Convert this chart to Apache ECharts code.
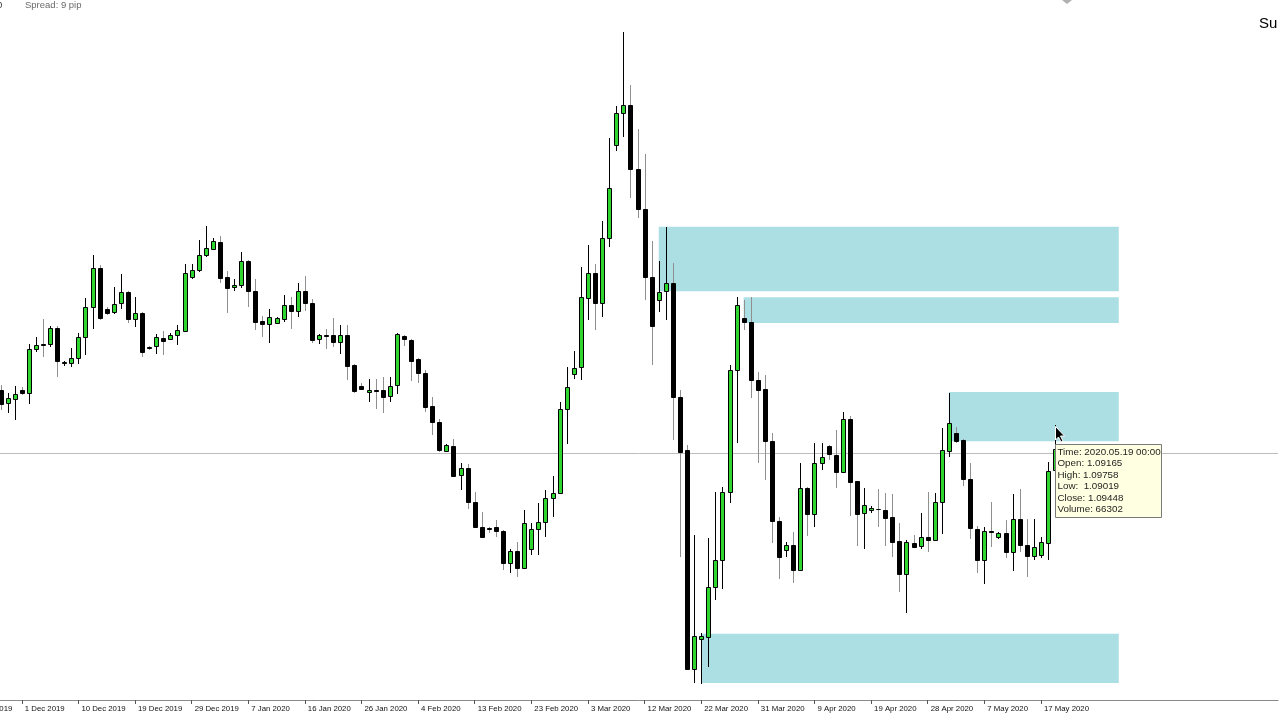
<!DOCTYPE html>
<html>
<head>
<meta charset="utf-8">
<script src="https://cdn.jsdelivr.net/npm/echarts/dist/echarts.min.js"></script>
<style>
html,body{margin:0;padding:0;background:#ffffff;overflow:hidden;}
#chart{width:1280px;height:720px;}
</style>
</head>
<body>
<div id="chart"></div>
<script>
// ---------------- data ----------------
// daily bars (broker with Sunday bars): categories start 2019.11.21, Saturdays skipped
const firstDay = [2019, 10, 21];     // UTC y, m(0-based), d
const barCount = 186;                // includes empty future space on the right
const firstCandleIndex = 5;          // 2019.11.27 is first visible candle
const monthNames = ['Jan','Feb','Mar','Apr','May','Jun','Jul','Aug','Sep','Oct','Nov','Dec'];

// [open, close, low, high]
const ohlc = [
[1.1023,1.1004,1.0996,1.1029],[1.1005,1.1012,1.0992,1.1019],[1.1011,1.1017,1.0983,1.1028],[1.1023,1.1019,1.1016,1.1027],
[1.1019,1.1077,1.1004,1.1083],[1.1077,1.1082,1.1073,1.1093],[1.1083,1.1082,1.1066,1.1116],[1.1083,1.1104,1.1079,1.1107],
[1.1104,1.1061,1.1040,1.1107],[1.1058,1.1060,1.1054,1.1061],[1.1058,1.1065,1.1053,1.1078],[1.1065,1.1093,1.1057,1.1098],
[1.1093,1.1132,1.1069,1.1144],[1.1132,1.1184,1.1103,1.1201],[1.1184,1.1118,1.1115,1.1188],[1.1130,1.1124,1.1122,1.1132],
[1.1126,1.1136,1.1123,1.1159],[1.1137,1.1152,1.1130,1.1176],[1.1152,1.1116,1.1111,1.1153],[1.1116,1.1124,1.1106,1.1145],
[1.1124,1.1073,1.1066,1.1125],[1.1079,1.1078,1.1075,1.1081],[1.1081,1.1093,1.1070,1.1097],[1.1091,1.1087,1.1069,1.1100],
[1.1090,1.1095,1.1089,1.1098],[1.1095,1.1102,1.1082,1.1108],[1.1100,1.1177,1.1099,1.1189],[1.1172,1.1181,1.1169,1.1189],
[1.1181,1.1201,1.1178,1.1221],[1.1201,1.1210,1.1198,1.1239],[1.1209,1.1219,1.1207,1.1223],[1.1218,1.1170,1.1164,1.1226],
[1.1172,1.1157,1.1124,1.1180],[1.1159,1.1161,1.1153,1.1169],[1.1161,1.1193,1.1157,1.1205],[1.1193,1.1153,1.1132,1.1194],
[1.1153,1.1112,1.1102,1.1169],[1.1114,1.1110,1.1093,1.1120],[1.1110,1.1119,1.1085,1.1130],[1.1111,1.1118,1.1110,1.1119],
[1.1116,1.1135,1.1112,1.1148],[1.1135,1.1127,1.1103,1.1145],[1.1127,1.1153,1.1119,1.1164],[1.1153,1.1137,1.1127,1.1173],
[1.1137,1.1089,1.1085,1.1143],[1.1090,1.1095,1.1083,1.1096],[1.1095,1.1094,1.1077,1.1103],[1.1095,1.1086,1.1079,1.1118],
[1.1086,1.1095,1.1070,1.1108],[1.1095,1.1054,1.1036,1.1108],[1.1056,1.1021,1.1019,1.1057],[1.1028,1.1024,1.1023,1.1032],
[1.1020,1.1023,1.1007,1.1037],[1.1023,1.1021,1.0998,1.1037],[1.1023,1.1013,1.0992,1.1040],[1.1015,1.1028,1.1007,1.1040],
[1.1029,1.1097,1.1017,1.1098],[1.1094,1.1090,1.1081,1.1095],[1.1089,1.1061,1.1035,1.1090],[1.1064,1.1045,1.1032,1.1065],
[1.1045,1.1000,1.0994,1.1049],[1.1002,1.0980,1.0963,1.1013],[1.0980,1.0943,1.0941,1.0984],[1.0942,1.0950,1.0941,1.0951],
[1.0949,1.0909,1.0908,1.0958],[1.0910,1.0920,1.0891,1.0926],[1.0920,1.0875,1.0866,1.0925],[1.0875,1.0842,1.0840,1.0888],
[1.0842,1.0829,1.0828,1.0862],[1.0840,1.0839,1.0834,1.0842],[1.0842,1.0837,1.0829,1.0851],[1.0837,1.0794,1.0785,1.0838],
[1.0794,1.0810,1.0781,1.0813],[1.0810,1.0788,1.0776,1.0822],[1.0788,1.0847,1.0786,1.0864],[1.0813,1.0839,1.0805,1.0847],
[1.0839,1.0848,1.0805,1.0873],[1.0848,1.0880,1.0829,1.0891],[1.0880,1.0887,1.0855,1.0909],[1.0887,1.0998,1.0885,1.1007],
[1.0998,1.1027,1.0951,1.1053],[1.1044,1.1052,1.1037,1.1074],[1.1053,1.1145,1.1036,1.1185],[1.1144,1.1177,1.1115,1.1214],
[1.1177,1.1137,1.1102,1.1189],[1.1137,1.1223,1.1119,1.1246],[1.1223,1.1289,1.1211,1.1355],[1.1346,1.1388,1.1338,1.1397],
[1.1388,1.1399,1.1357,1.1495],[1.1399,1.1314,1.1276,1.1425],[1.1314,1.1262,1.1250,1.1367],[1.1262,1.1172,1.1141,1.1334],
[1.1172,1.1107,1.1056,1.1219],[1.1141,1.1152,1.1126,1.1193],[1.1153,1.1164,1.1115,1.1238],[1.1164,1.1013,1.0956,1.1190],
[1.1013,1.0941,1.0802,1.1023],[1.0943,1.0654,1.0653,1.0950],[1.0654,1.0698,1.0636,1.0831],[1.0694,1.0698,1.0635,1.0702],
[1.0697,1.0763,1.0657,1.0827],[1.0763,1.0798,1.0745,1.0888],[1.0798,1.0888,1.0760,1.0895],[1.0888,1.1049,1.0874,1.1056],
[1.1049,1.1135,1.0953,1.1145],[1.1118,1.1112,1.1102,1.1141],[1.1112,1.1036,1.1012,1.1145],[1.1036,1.1023,1.0926,1.1046],
[1.1024,1.0955,1.0904,1.1042],[1.0955,1.0850,1.0821,1.0966],[1.0850,1.0802,1.0773,1.0855],[1.0811,1.0818,1.0802,1.0822],
[1.0818,1.0785,1.0768,1.0835],[1.0785,1.0893,1.0784,1.0926],[1.0893,1.0859,1.0830,1.0894],[1.0859,1.0926,1.0842,1.0952],
[1.0926,1.0934,1.0917,1.0952],[1.0949,1.0938,1.0930,1.0950],[1.0937,1.0914,1.0893,1.0970],[1.0914,1.0984,1.0913,1.0994],
[1.0984,1.0901,1.0856,1.0988],[1.0902,1.0859,1.0817,1.0903],[1.0860,1.0871,1.0813,1.0893],[1.0864,1.0867,1.0860,1.0869],
[1.0866,1.0865,1.0842,1.0892],[1.0864,1.0854,1.0817,1.0887],[1.0855,1.0822,1.0802,1.0885],[1.0823,1.0780,1.0756,1.0847],
[1.0780,1.0822,1.0728,1.0824],[1.0821,1.0815,1.0814,1.0831],[1.0817,1.0829,1.0813,1.0860],[1.0829,1.0825,1.0809,1.0888],
[1.0825,1.0875,1.0823,1.0887],[1.0875,1.0943,1.0833,1.0972],[1.0942,1.0979,1.0934,1.1019],[1.0966,1.0955,1.0953,1.0974],
[1.0957,1.0905,1.0896,1.0958],[1.0905,1.0840,1.0826,1.0926],[1.0839,1.0798,1.0781,1.0843],[1.0798,1.0837,1.0767,1.0842],
[1.0837,1.0835,1.0815,1.0875],[1.0829,1.0834,1.0826,1.0835],[1.0834,1.0809,1.0801,1.0851],[1.0809,1.0852,1.0784,1.0885],
[1.0852,1.0818,1.0809,1.0892],[1.0818,1.0804,1.0776,1.0852],[1.0804,1.0815,1.0798,1.0852],[1.0805,1.0822,1.0801,1.0829],
[1.0821,1.0916,1.0798,1.0928],[1.09165,1.09448,1.09019,1.09758]
];
const hoverVolume = 66302;
const crosshairPrice = 1.0939;

// supply / demand rectangles: [from date, to date, top price, bottom price]
const zones = [
  ['2020.03.15', '2020.05.29', 1.1238, 1.1153],
  ['2020.03.29', '2020.05.29', 1.1145, 1.1111],
  ['2020.05.01', '2020.05.29', 1.1020, 1.0955],
  ['2020.03.22', '2020.05.29', 1.0701, 1.0636]
];
const priceMin = 1.06134, priceMax = 1.15374;
const spreadLabel = 'Spread: 9 pip';
const cornerLabel = 'Su';

// ---------------- build ----------------
function pad(n){ return (n < 10 ? '0' : '') + n; }
const categories = [];
(function(){
  const d = new Date(Date.UTC(firstDay[0], firstDay[1], firstDay[2]));
  while (categories.length < barCount) {
    if (d.getUTCDay() !== 6) categories.push(d.getUTCFullYear() + '.' + pad(d.getUTCMonth() + 1) + '.' + pad(d.getUTCDate()));
    d.setUTCDate(d.getUTCDate() + 1);
  }
})();
const lastCandleCat = firstCandleIndex + ohlc.length - 1;
const candleData = ohlc.map((r, i) => [firstCandleIndex + i, r[0], r[1], r[2], r[3]]);
function labelOf(v){
  const p = v.split('.');
  return parseInt(p[2], 10) + ' ' + monthNames[parseInt(p[1], 10) - 1] + ' ' + p[0];
}
const showTick = (idx) => idx % 8 === 0 && idx <= lastCandleCat;

const GREEN = '#2fd62f';
const ZONE = '#acdfe3';
const FONT = '"Liberation Sans", Arial, sans-serif';

const chart = echarts.init(document.getElementById('chart'), null, {renderer: 'canvas'});

const hv = ohlc[ohlc.length - 1];
const hoverDate = categories[lastCandleCat];
const tipLines = [
  'Time: ' + hoverDate + ' 00:00',
  'Open: ' + hv[0].toFixed(5),
  'High: ' + hv[3].toFixed(5),
  'Low:  ' + hv[2].toFixed(5),
  'Close: ' + hv[1].toFixed(5),
  'Volume: ' + hoverVolume
];
const tipX = 1055, tipY = 444;
const graphics = [
  {type: 'text', z: 50, x: -3, y: 5, style: {text: '0', fill: '#333333', font: '9.5px ' + FONT, verticalAlign: 'middle'}},
  {type: 'text', z: 50, x: 25, y: 5, style: {text: spreadLabel, fill: '#6a6a6a', font: '9.5px ' + FONT, verticalAlign: 'middle'}},
  {type: 'text', z: 50, x: 1259, y: 24, style: {text: cornerLabel, fill: '#000000', font: '15px ' + FONT, verticalAlign: 'middle'}},
  {type: 'polygon', z: 50, shape: {points: [[1062, 0], [1072, 0], [1067, 4]]}, style: {fill: '#b0b0b0'}},
  {type: 'rect', z: 100, shape: {x: tipX + 0.5, y: tipY + 0.5, width: 106, height: 73},
   style: {fill: '#ffffe1', stroke: '#7a7a7a', lineWidth: 1}}
];
tipLines.forEach((t, k) => {
  graphics.push({
    type: 'text', z: 101, x: tipX + 2.5, y: tipY + 8 + k * 11.45,
    style: {text: t, fill: '#1e1e1e', font: '9.8px ' + FONT, verticalAlign: 'middle', align: 'left'}
  });
});
graphics.push({type: 'polygon', z: 102,
  shape: {points: [[1055.5, 426.5], [1055.5, 440], [1058.5, 437], [1061, 442], [1063, 441], [1060.5, 436], [1064.5, 436]]},
  style: {fill: '#000000', stroke: '#ffffff', lineWidth: 1}});

const option = {
  animation: false,
  backgroundColor: '#ffffff',
  grid: {left: -38.38, right: 2, top: 0, bottom: 20, containLabel: false, outerBoundsMode: 'none', show: false},
  xAxis: {
    type: 'category',
    data: categories,
    boundaryGap: true,
    axisLine: {show: true, lineStyle: {color: '#8a8a8a', width: 1}},
    axisTick: {show: true, alignWithLabel: true, interval: showTick, length: 4, lineStyle: {color: '#555555'}},
    axisLabel: {
      interval: showTick, formatter: labelOf, align: 'left', padding: [0, 0, 0, 3],
      margin: 4.5, fontSize: 7.8, color: '#111111', fontFamily: FONT
    },
    splitLine: {show: false}
  },
  yAxis: {
    type: 'value', min: priceMin, max: priceMax, show: false,
    splitLine: {show: false}, scale: true
  },
  series: [{
    type: 'custom',
    name: 'EURUSD,Daily',
    data: candleData,
    encode: {x: 0, y: [1, 2, 3, 4]},
    z: 3,
    silent: true,
    clip: false,
    renderItem: function (params, api) {
      const x = api.value(0), o = api.value(1), c = api.value(2), l = api.value(3), h = api.value(4);
      const pO = api.coord([x, o]), pC = api.coord([x, c]);
      const pL = api.coord([x, l]), pH = api.coord([x, h]);
      const cx = Math.round(pO[0]) + 0.5;
      const up = c >= o;
      const top = Math.round(Math.min(pO[1], pC[1]));
      const bot = Math.round(Math.max(pO[1], pC[1]));
      return {
        type: 'group',
        children: [
          {type: 'line', shape: {x1: cx, y1: Math.round(pH[1]), x2: cx, y2: Math.round(pL[1])},
           style: {stroke: up ? '#000000' : '#8f8f8f', lineWidth: 1}},
          {type: 'rect', shape: {x: cx - 2, y: top + 0.5, width: 4, height: Math.max(bot - top, 0)},
           style: {fill: up ? GREEN : '#000000', stroke: '#000000', lineWidth: 1}}
        ]
      };
    },
    markArea: {
      silent: true,
      z: 1,
      label: {show: false},
      itemStyle: {color: ZONE, opacity: 1, borderWidth: 0},
      data: zones.map(zn => [{xAxis: zn[0], yAxis: zn[2]}, {xAxis: zn[1], yAxis: zn[3]}])
    },
    markLine: {
      silent: true,
      z: 1,
      precision: 6,
      symbol: ['none', 'none'],
      label: {show: false},
      lineStyle: {color: '#bdbdbd', width: 1, type: 'solid'},
      data: [{yAxis: crosshairPrice}]
    }
  }],
  graphic: graphics
};
chart.setOption(option);
</script>
</body>
</html>
